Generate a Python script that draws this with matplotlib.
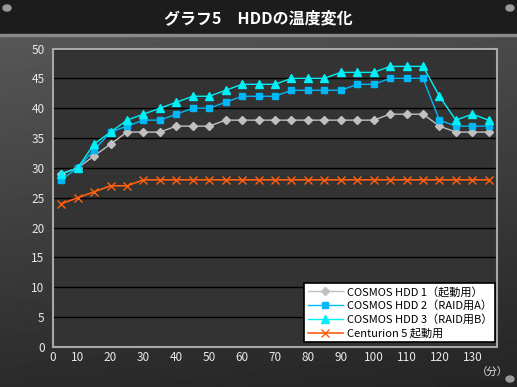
import matplotlib
matplotlib.use("Agg")
import matplotlib.pyplot as plt
import numpy as np
from matplotlib.patches import Rectangle, Circle

plt.rcParams['font.family'] = ['Noto Sans CJK JP', 'DejaVu Sans']

# data
minutes = [5, 10, 15, 20, 25, 30, 35, 40, 45, 50, 55, 60, 65, 70,
           75, 80, 85, 90, 95, 100, 105, 110, 115, 120, 125, 130, 135]
hdd1 = [29, 30, 32, 34, 36, 36, 36, 37, 37, 37, 38, 38, 38, 38,
        38, 38, 38, 38, 38, 38, 39, 39, 39, 37, 36, 36, 36]
hdd2 = [28, 30, 33, 36, 37, 38, 38, 39, 40, 40, 41, 42, 42, 42,
        43, 43, 43, 43, 44, 44, 45, 45, 45, 38, 37, 37, 37]
hdd3 = [29, 30, 34, 36, 38, 39, 40, 41, 42, 42, 43, 44, 44, 44,
        45, 45, 45, 46, 46, 46, 47, 47, 47, 42, 38, 39, 38]
centurion = [24, 25, 26, 27, 27, 28, 28, 28, 28, 28, 28, 28, 28, 28,
             28, 28, 28, 28, 28, 28, 28, 28, 28, 28, 28, 28, 28]

labels = ['COSMOS HDD 1（起動用）', 'COSMOS HDD 2（RAID用A）',
          'COSMOS HDD 3（RAID用B）', 'Centurion 5 起動用']
x_ticks = [2.5, 10, 20, 30, 40, 50, 60, 70, 80, 90, 100, 110, 120, 130]
x_ticklabels = ['0', '10', '20', '30', '40', '50', '60', '70', '80',
                '90', '100', '110', '120', '130']
y_ticks = list(range(0, 51, 5))

W, H = 517, 387
fig = plt.figure(figsize=(W / 100, H / 100), dpi=100)

# background gradient
bg = fig.add_axes([0, 0, 1, 1], zorder=0)
grad = np.linspace(0.36, 0.17, 256).reshape(-1, 1)
side = np.linspace(1.0, 0.85, 256).reshape(1, -1)
img = grad * side
bg.imshow(img, cmap='gray', vmin=0, vmax=1, aspect='auto',
          extent=[0, 1, 0, 1], origin='upper')
bg.add_patch(Rectangle((0, 1 - 34 / H), 1, 34 / H, color='#1c1c1c',
                       transform=bg.transAxes))
bg.add_patch(Rectangle((0, 1 - 36 / H), 1, 2 / H, color='#8a8a8a',
                       transform=bg.transAxes))
for cx, cy in [(7, 8), (510, 8), (510, 379)]:
    bg.add_patch(Circle((cx / W, 1 - cy / H), 4 / W, color='#9a9a9a',
                        transform=bg.transAxes))
bg.set_xlim(0, 1)
bg.set_ylim(0, 1)
bg.axis('off')

fig.text(0.5, 1 - 18 / H, 'グラフ5　HDDの温度変化', color='white',
         fontsize=11.5, fontweight='bold', ha='center', va='center')

ax = fig.add_axes([53 / W, 1 - 347 / H, 444 / W, 298.5 / H], zorder=1)
ax.set_facecolor('#333333')

ax.plot(minutes, hdd1, color='#c0c0c0', marker='D', markersize=4,
        linewidth=1, label=labels[0])
ax.plot(minutes, hdd2, color='#00b8f8', marker='s', markersize=5,
        linewidth=1, label=labels[1])
ax.plot(minutes, hdd3, color='#00f0f8', marker='^', markersize=5.5,
        linewidth=1, label=labels[2])
ax.plot(minutes, centurion, color='#ff6010', marker='x', markersize=5.5,
        markeredgewidth=1, linewidth=1.2, label=labels[3])

ax.set_xlim(2.5, 137.5)
ax.set_ylim(0, 50)
ax.set_xticks(x_ticks)
ax.set_xticklabels(x_ticklabels)
ax.set_yticks(y_ticks)
ax.tick_params(colors='#e8e8e8', labelsize=8.5, length=0)
ax.tick_params(axis='x', pad=3)
ax.tick_params(axis='y', pad=6)
ax.grid(True, axis='y', color='black', linewidth=1)
ax.set_axisbelow(True)
for sp in ax.spines.values():
    sp.set_color('#a8a8a8')
    sp.set_linewidth(1.5)

fig.text(492 / W, 1 - 373 / H, '（分）', color='#e8e8e8', fontsize=7.5,
         ha='center', va='center')

leg = ax.legend(loc='lower right', bbox_to_anchor=(0.996, 0.016),
                borderaxespad=0, fontsize=8, frameon=True,
                fancybox=False, edgecolor='black', facecolor='white',
                framealpha=1, handlelength=3.2, handletextpad=0.3,
                labelspacing=0.3, borderpad=0.3)
leg.get_frame().set_linewidth(1.2)

fig.savefig('out.png', dpi=100)
